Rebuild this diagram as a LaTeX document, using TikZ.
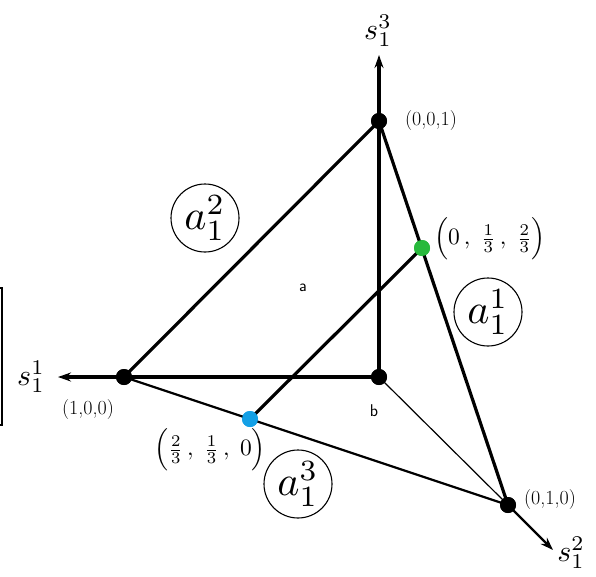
\documentclass[tikz,border=0pt]{standalone}
\usepackage{amsmath}
\usepackage{graphicx}
\usetikzlibrary{arrows.meta}
\begin{document}
\begin{tikzpicture}[x=1pt,y=-1pt,
  dot/.style={circle,fill=black,inner sep=0pt,minimum size=16pt},
  edge/.style={line width=3.2pt,line cap=round},
  medge/.style={line width=2.2pt},
  tedge/.style={line width=1.2pt},
  axis/.style={line width=3.2pt,-{Stealth[length=13pt,width=9pt]}},
  circlab/.style={circle,draw,line width=1.1pt,inner sep=0pt,minimum size=68pt},
  coordlab/.style={font=\fontsize{20}{22}\selectfont,inner sep=1pt},
  fraclab/.style={inner sep=1pt},
  axlab/.style={inner sep=0pt},
  small/.style={font=\sffamily\fontsize{17}{19}\selectfont,inner sep=0pt}]
\useasboundingbox (0,0) rectangle (596,576);
% points
\node[dot] (O) at (379,377) {};
\node[dot] (Z) at (379,121) {};
\node[dot] (X) at (124,377) {};
\node[dot] (Y) at (508,505) {};
\node[circle,fill={rgb,255:red,40;green,185;blue,60},inner sep=0pt,minimum size=16pt] (G) at (422,248) {};
\node[circle,fill={rgb,255:red,20;green,160;blue,230},inner sep=0pt,minimum size=16pt] (B) at (250,419) {};
% axis tips
\coordinate (T3) at (379,55);
\coordinate (T1) at (58,377);
\coordinate (T2) at (553,550);
% edges
\draw[edge] (X.center) -- (Z.center);
\draw[edge] (Z.center) -- (Y.center);
\draw[edge] (X.center) -- (O.center);
\draw[edge] (Z.center) -- (O.center);
\draw[medge] (X.center) -- (Y.center);
\draw[tedge] (O.center) -- (Y.center);
\draw[edge] (B.center) -- (G.center);
% axes
\draw[axis] (Z.center) -- (T3);
\draw[axis] (X.center) -- (T1);
\draw[axis,line width=2.2pt] (Y.center) -- (T2);
% redraw dots on top
\node[dot] at (O) {};
\node[dot] at (Z) {};
\node[dot] at (X) {};
\node[dot] at (Y) {};
\node[circle,fill={rgb,255:red,40;green,185;blue,60},inner sep=0pt,minimum size=16pt] at (G) {};
\node[circle,fill={rgb,255:red,20;green,160;blue,230},inner sep=0pt,minimum size=16pt] at (B) {};
% axis labels
\node[axlab] (L3) at (378,31) {\scalebox{3}{$s_1^3$}};
\node[axlab] (L1) at (31,377) {\scalebox{3}{$s_1^1$}};
\node[axlab] (L2) at (571,553) {\scalebox{3}{$s_1^2$}};
% coordinate labels
\node[coordlab] (c001) at (431,121) {(0,0,1)};
\node[coordlab] (c100) at (88,409) {(1,0,0)};
\node[coordlab] (c010) at (550,499) {(0,1,0)};
\node[fraclab] (cg) at (490,239) {\scalebox{2.35}{$\Bigl(0\,,\;\tfrac{1}{3}\,,\;\tfrac{2}{3}\Bigr)$}};
\node[fraclab] (cb) at (210,450) {\scalebox{2.35}{$\Bigl(\tfrac{2}{3}\,,\;\tfrac{1}{3}\,,\;0\Bigr)$}};
% circled labels
\node[circlab] (a2) at (205,218) {\scalebox{4.2}{$a_1^2$}};
\node[circlab] (a1) at (488,312) {\scalebox{4.2}{$a_1^1$}};
\node[circlab] (a3) at (298,484) {\scalebox{4.2}{$a_1^3$}};
% small labels
\node[small] (la) at (303,288) {a};
\node[small] (lb) at (374,411) {b};
% left edge fragment
\draw[line width=1.4pt] (0,288) -- (2,288) -- (2,425) -- (0,425);
\end{tikzpicture}
\end{document}
